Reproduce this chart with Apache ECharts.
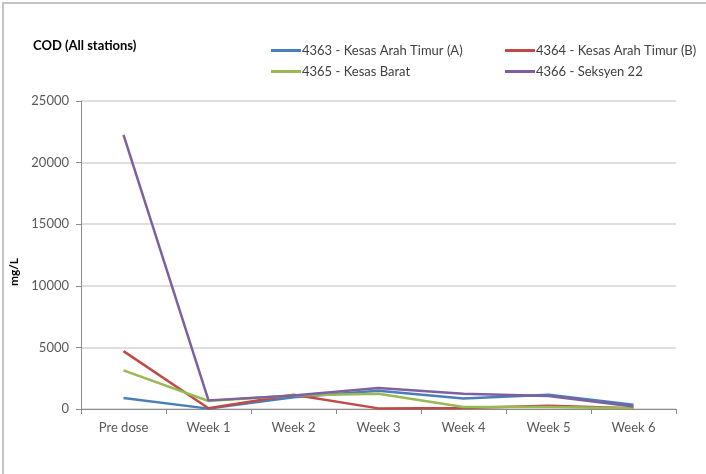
<!DOCTYPE html>
<html>
<head>
<meta charset="utf-8">
<script src="https://cdn.jsdelivr.net/npm/echarts@6/dist/echarts.min.js"></script>
<style>
  html, body { margin: 0; padding: 0; background: #fff; }
  #chart { width: 706px; height: 474px; }
</style>
</head>
<body>
<div id="chart"></div>
<script>
// categories along the x axis
var weeks = ["Pre dose", "Week 1", "Week 2", "Week 3", "Week 4", "Week 5", "Week 6"];
// COD values per station (mg/L)
var st4363 = [890, 30, 950, 1480, 860, 1160, 350];
var st4364 = [4700, 60, 1150, 50, 80, 270, 60];
var st4365 = [3130, 650, 1100, 1240, 160, 170, 60];
var st4366 = [22250, 700, 1100, 1700, 1240, 1050, 210];
var yTicks = [0, 5000, 10000, 15000, 20000, 25000];

var names = ["4363 - Kesas Arah Timur (A)", "4364 - Kesas Arah Timur (B)", "4365 - Kesas Barat", "4366 - Seksyen 22"];
var colors = ["#4a7ebb", "#be4b48", "#98b954", "#7d60a0"];
var font = "Lato, 'Open Sans', sans-serif";

function line(name, data, color) {
  return {
    name: name,
    type: "line",
    data: data,
    symbol: "none",
    lineStyle: { color: color, width: 2.5 },
    itemStyle: { color: color }
  };
}

var legendBase = {
  orient: "vertical",
  top: 39,
  itemGap: 8,
  itemWidth: 30,
  itemHeight: 3,
  icon: "rect",
  textStyle: { fontFamily: font, fontSize: 13, color: "#404040", padding: [0, 0, 0, -4] }
};

var option = {
  animation: false,
  color: colors,
  title: {
    text: "COD (All stations)",
    left: 28,
    top: 34,
    textStyle: { fontFamily: font, fontSize: 13, fontWeight: "bold", color: "#000" }
  },
  legend: [
    Object.assign({}, legendBase, { left: 266, data: [names[0], names[2]] }),
    Object.assign({}, legendBase, { left: 500, data: [names[1], names[3]] })
  ],
  graphic: [{
    type: "rect",
    shape: { x: 3, y: 3, width: 720, height: 490 },
    style: { fill: "none", stroke: "#c4c4c4", lineWidth: 2 },
    silent: true
  }],
  grid: { left: 81, right: 30, top: 101, bottom: 65 },
  xAxis: {
    type: "category",
    data: weeks,
    boundaryGap: true,
    axisLine: { lineStyle: { color: "#8c8c8c" } },
    axisTick: { show: true, length: 5, lineStyle: { color: "#8c8c8c" } },
    axisLabel: { fontFamily: font, fontSize: 13, color: "#595959", margin: 12 }
  },
  yAxis: {
    type: "value",
    min: yTicks[0],
    max: yTicks[yTicks.length - 1],
    interval: 5000,
    name: "mg/L",
    nameLocation: "middle",
    nameGap: 57,
    nameTextStyle: { fontFamily: font, fontSize: 12, fontWeight: "bold", color: "#000", padding: [0, 0, 0, -34] },
    axisLine: { show: true, lineStyle: { color: "#8c8c8c" } },
    axisTick: { show: true, length: 5, lineStyle: { color: "#8c8c8c" } },
    axisLabel: {
      fontFamily: font, fontSize: 13, color: "#595959", margin: 12,
      formatter: function (v) { return String(v); }
    },
    splitLine: { lineStyle: { color: "#d4d4d4", width: 1.5 } }
  },
  series: [
    line(names[0], st4363, colors[0]),
    line(names[1], st4364, colors[1]),
    line(names[2], st4365, colors[2]),
    line(names[3], st4366, colors[3])
  ]
};

var chart = echarts.init(document.getElementById("chart"));
chart.setOption(option);
</script>
</body>
</html>
